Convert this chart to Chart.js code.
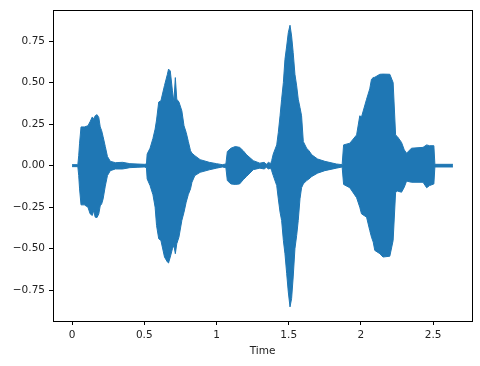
<!DOCTYPE html>
<html>
<head>
<meta charset="utf-8">
<script src="https://cdn.jsdelivr.net/npm/chart.js@4"></script>
<style>
  body { margin: 0; background: #fff; }
  canvas { display: block; }
</style>
</head>
<body>
<canvas id="wave" width="480" height="366"></canvas>
<script>
// waveform envelope (seconds, max amplitude, min amplitude)
const timeSec = [
  0.000, 0.040, 0.046, 0.052, 0.062, 0.085, 0.110, 0.125, 0.140, 0.150,
  0.160, 0.173, 0.185, 0.195, 0.205, 0.215, 0.230, 0.245, 0.265, 0.300,
  0.350, 0.400, 0.450, 0.500, 0.515, 0.520, 0.540, 0.560, 0.575, 0.585,
  0.600, 0.615, 0.640, 0.660, 0.668, 0.680, 0.695, 0.705, 0.715, 0.725,
  0.740, 0.760, 0.775, 0.790, 0.805, 0.820, 0.830, 0.850, 0.887, 0.950,
  1.000, 1.040, 1.065, 1.075, 1.100, 1.130, 1.160, 1.185, 1.209, 1.255,
  1.300, 1.330, 1.345, 1.360, 1.375, 1.382, 1.393, 1.417, 1.428, 1.440,
  1.451, 1.463, 1.474, 1.486, 1.497, 1.509, 1.520, 1.531, 1.543, 1.555,
  1.566, 1.578, 1.589, 1.601, 1.624, 1.640, 1.660, 1.700, 1.750, 1.830,
  1.870, 1.880, 1.923, 1.970, 1.992, 2.004, 2.039, 2.061, 2.073, 2.085,
  2.096, 2.131, 2.153, 2.200, 2.223, 2.240, 2.253, 2.281, 2.300, 2.316,
  2.350, 2.430, 2.455, 2.475, 2.505, 2.512, 2.637
];
const envTop = [
  0.006, 0.006, 0.06, 0.135, 0.233, 0.233, 0.24, 0.265, 0.293, 0.28,
  0.30, 0.307, 0.29, 0.233, 0.21, 0.174, 0.115, 0.055, 0.026, 0.018,
  0.02, 0.012, 0.01, 0.008, 0.01, 0.07, 0.105, 0.164, 0.22, 0.275,
  0.383, 0.39, 0.483, 0.55, 0.581, 0.57, 0.45, 0.383, 0.53, 0.40,
  0.383, 0.33, 0.24, 0.20, 0.145, 0.09, 0.075, 0.06, 0.036, 0.02,
  0.012, 0.006, 0.01, 0.085, 0.105, 0.115, 0.11, 0.09, 0.065, 0.03,
  0.015, 0.02, 0.008, 0.02, 0.012, 0.03, 0.07, 0.125, 0.20, 0.30,
  0.40, 0.50, 0.64, 0.72, 0.80, 0.845, 0.78, 0.68, 0.55, 0.48,
  0.40, 0.35, 0.30, 0.145, 0.105, 0.09, 0.065, 0.04, 0.026, 0.01,
  0.006, 0.125, 0.135, 0.185, 0.30, 0.293, 0.40, 0.462, 0.52, 0.53,
  0.532, 0.55, 0.551, 0.55, 0.50, 0.185, 0.174, 0.14, 0.095, 0.075,
  0.105, 0.11, 0.125, 0.12, 0.12, 0.008, 0.008
];
const envBottom = [
  -0.006, -0.006, -0.06, -0.14, -0.236, -0.236, -0.25, -0.29, -0.30, -0.27,
  -0.31, -0.312, -0.29, -0.242, -0.23, -0.20, -0.123, -0.06, -0.03, -0.02,
  -0.02, -0.012, -0.01, -0.008, -0.012, -0.08, -0.12, -0.175, -0.25, -0.36,
  -0.44, -0.45, -0.55, -0.58, -0.586, -0.55, -0.50, -0.48, -0.53, -0.47,
  -0.43, -0.33, -0.28, -0.22, -0.173, -0.14, -0.10, -0.06, -0.04, -0.025,
  -0.015, -0.008, -0.012, -0.09, -0.11, -0.113, -0.11, -0.085, -0.064, -0.024,
  -0.015, -0.02, -0.01, -0.02, -0.015, -0.03, -0.06, -0.12, -0.20, -0.28,
  -0.33, -0.45, -0.53, -0.65, -0.76, -0.85, -0.80, -0.67, -0.50, -0.42,
  -0.33, -0.20, -0.133, -0.11, -0.09, -0.08, -0.065, -0.045, -0.03, -0.015,
  -0.008, -0.113, -0.133, -0.193, -0.25, -0.29, -0.31, -0.39, -0.43, -0.46,
  -0.51, -0.53, -0.55, -0.545, -0.45, -0.16, -0.153, -0.16, -0.13, -0.093,
  -0.10, -0.10, -0.133, -0.12, -0.11, -0.008, -0.008
];

const xTicks = [0, 0.5, 1, 1.5, 2, 2.5];
const yTicks = [-0.75, -0.5, -0.25, 0, 0.25, 0.5, 0.75];

const blue = '#1f77b4';
const tickFont = { family: 'DejaVu Sans', size: 10.5 };

// matplotlib style box around the axes
const frame = {
  id: 'frame',
  afterDraw(chart) {
    const { ctx, chartArea: a } = chart;
    ctx.save();
    ctx.strokeStyle = '#000';
    ctx.lineWidth = 1;
    ctx.strokeRect(Math.round(a.left) + 0.5, Math.round(a.top) + 0.5,
      Math.round(a.right - a.left), Math.round(a.bottom - a.top));
    ctx.restore();
  }
};

new Chart(document.getElementById('wave'), {
  type: 'line',
  data: {
    datasets: [
      {
        data: timeSec.map((t, i) => ({ x: t, y: envTop[i] })),
        borderColor: blue,
        backgroundColor: blue,
        borderWidth: 1,
        pointRadius: 0,
        tension: 0,
        fill: '+1'
      },
      {
        data: timeSec.map((t, i) => ({ x: t, y: envBottom[i] })),
        borderColor: blue,
        backgroundColor: blue,
        borderWidth: 1,
        pointRadius: 0,
        tension: 0,
        fill: false
      }
    ]
  },
  options: {
    responsive: false,
    animation: false,
    devicePixelRatio: 1,
    layout: { padding: { top: 7, right: 8, left: 0, bottom: 0 } },
    plugins: { legend: { display: false }, tooltip: { enabled: false } },
    scales: {
      x: {
        type: 'linear',
        min: -0.132,
        max: 2.769,
        afterBuildTicks: s => { s.ticks = xTicks.map(v => ({ value: v })); },
        afterFit: s => { s.height = 45; },
        border: { display: false },
        grid: { drawOnChartArea: false, drawTicks: true, tickLength: 4, color: '#000' },
        ticks: {
          color: '#222',
          font: tickFont,
          padding: 4,
          maxRotation: 0,
          callback: v => String(v)
        },
        title: {
          display: true,
          text: 'Time',
          color: '#222',
          font: tickFont,
          padding: { top: 0, bottom: 8 }
        }
      },
      y: {
        min: -0.935,
        max: 0.935,
        afterBuildTicks: s => { s.ticks = yTicks.map(v => ({ value: v })); },
        afterFit: s => { s.width = 53; },
        border: { display: false },
        grid: { drawOnChartArea: false, drawTicks: true, tickLength: 4, color: '#000' },
        ticks: {
          color: '#222',
          font: tickFont,
          padding: 4,
          callback: v => v.toFixed(2).replace('-', '\u2212')
        }
      }
    }
  },
  plugins: [frame]
});
</script>
</body>
</html>
